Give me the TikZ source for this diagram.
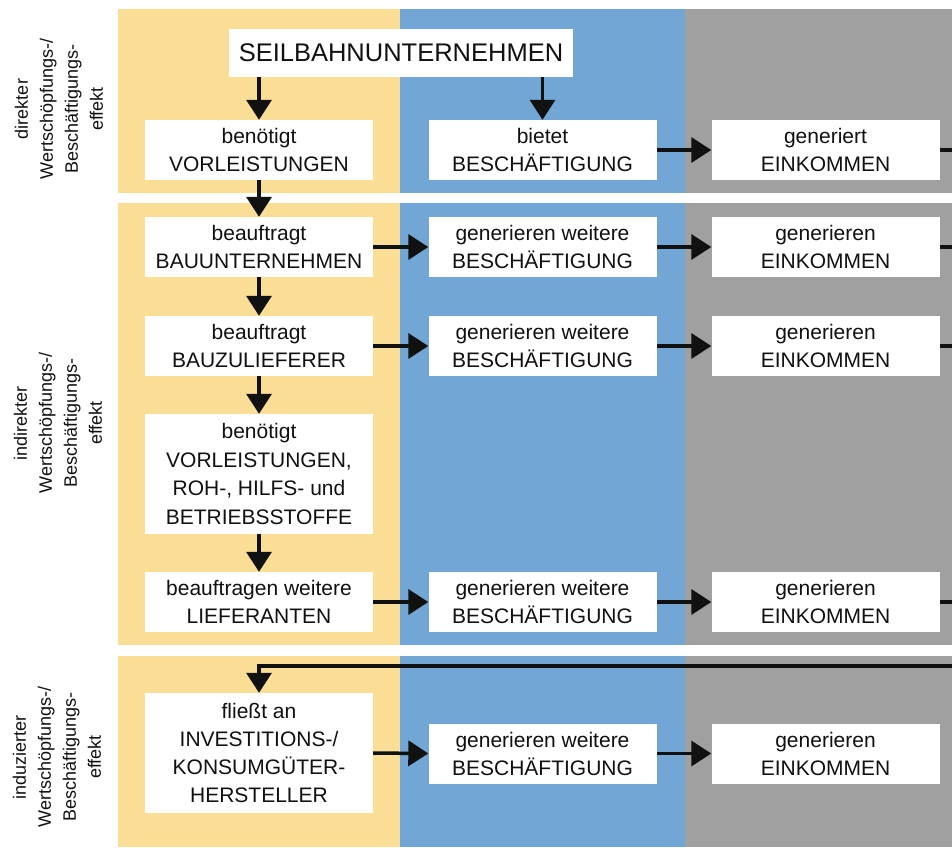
\documentclass[tikz,border=0pt]{standalone}
\usepackage{fontspec}
\setmainfont{Liberation Sans}
\usetikzlibrary{arrows.meta}
\definecolor{cyel}{RGB}{250,222,150}
\definecolor{cblu}{RGB}{114,166,212}
\definecolor{cgry}{RGB}{160,160,160}
\definecolor{cink}{RGB}{17,17,17}
\begin{document}
\begin{tikzpicture}[x=1pt,y=-1pt,
  box/.style={fill=white, inner sep=0pt, align=center, minimum width=228pt, minimum height=60pt, text=cink, font=\fontsize{21}{28}\selectfont},
  arr/.style={draw=cink, line width=3.5pt, -{Triangle[length=20pt,width=25pt]}},
  ln/.style={draw=cink, line width=3.5pt},
  side/.style={rotate=90, align=center, text=cink, font=\fontsize{18}{25}\selectfont}]
\useasboundingbox (0,0) rectangle (952,847);
\fill[white] (0,0) rectangle (952,847);
% background bands
\foreach \ya/\yb in {9/193, 203/645, 656/847}{
  \fill[cyel] (118,\ya) rectangle (400,\yb);
  \fill[cblu] (400,\ya) rectangle (685,\yb);
  \fill[cgry] (685,\ya) rectangle (952,\yb);
}
% side labels
\node[side] (s1) at (59,109) {direkter\\Wertschöpfungs-/\\Beschäftigungs-\\effekt};
\node[side] (s2) at (58,423) {indirekter\\Wertschöpfungs-/\\Beschäftigungs-\\effekt};
\node[side] (s3) at (57,757) {induzierter\\Wertschöpfungs-/\\Beschäftigungs-\\effekt};
% boxes
\node[box, minimum width=344pt, minimum height=48pt, font=\fontsize{25.5}{30}\selectfont] (seil) at (401,53) {SEILBAHNUNTERNEHMEN};
\node[box] (a1) at (259,150) {benötigt\\VORLEISTUNGEN};
\node[box] (b1) at (542.5,150) {bietet\\BESCHÄFTIGUNG};
\node[box] (c1) at (825.5,150) {generiert\\EINKOMMEN};
\node[box] (a2) at (259,247) {beauftragt\\BAUUNTERNEHMEN};
\node[box] (b2) at (542.5,247) {generieren weitere\\BESCHÄFTIGUNG};
\node[box] (c2) at (825.5,247) {generieren\\EINKOMMEN};
\node[box] (a3) at (259,346) {beauftragt\\BAUZULIEFERER};
\node[box] (b3) at (542.5,346) {generieren weitere\\BESCHÄFTIGUNG};
\node[box] (c3) at (825.5,346) {generieren\\EINKOMMEN};
\node[box, minimum height=120pt, font=\fontsize{21}{28.5}\selectfont] (a4) at (259,474) {benötigt\\VORLEISTUNGEN,\\ROH-, HILFS- und\\BETRIEBSSTOFFE};
\node[box] (a5) at (259,602) {beauftragen weitere\\LIEFERANTEN};
\node[box] (b5) at (542.5,602) {generieren weitere\\BESCHÄFTIGUNG};
\node[box] (c5) at (825.5,602) {generieren\\EINKOMMEN};
\node[box, minimum height=120pt] (a6) at (259,753) {fließt an\\INVESTITIONS-/\\KONSUMGÜTER-\\HERSTELLER};
\node[box] (b6) at (542.5,753.5) {generieren weitere\\BESCHÄFTIGUNG};
\node[box] (c6) at (825.5,753.5) {generieren\\EINKOMMEN};
% coordinates
\coordinate (redge) at (952,0);
\coordinate (fb) at (952,666);
% vertical arrows
\draw[arr] (seil.south -| a1.north) -- (a1.north);
\draw[arr] (seil.south -| b1.north) -- (b1.north);
\draw[arr] (a1.south) -- (a2.north);
\draw[arr] (a2.south) -- (a3.north);
\draw[arr] (a3.south) -- (a4.north);
\draw[arr] (a4.south) -- (a5.north);
% horizontal arrows
\foreach \r in {1,2,3,5,6}{
  \ifnum\r=1\else\draw[arr] (a\r.east) -- (b\r.west);\fi
  \draw[arr] (b\r.east) -- (c\r.west);
}
% outgoing lines
\foreach \r in {1,2,3,5}{
  \draw[ln] (c\r.east) -- (c\r.east -| redge);
}
% feedback
\draw[arr] (fb) -- (fb -| a6.north) -- (a6.north);
\end{tikzpicture}
\end{document}
